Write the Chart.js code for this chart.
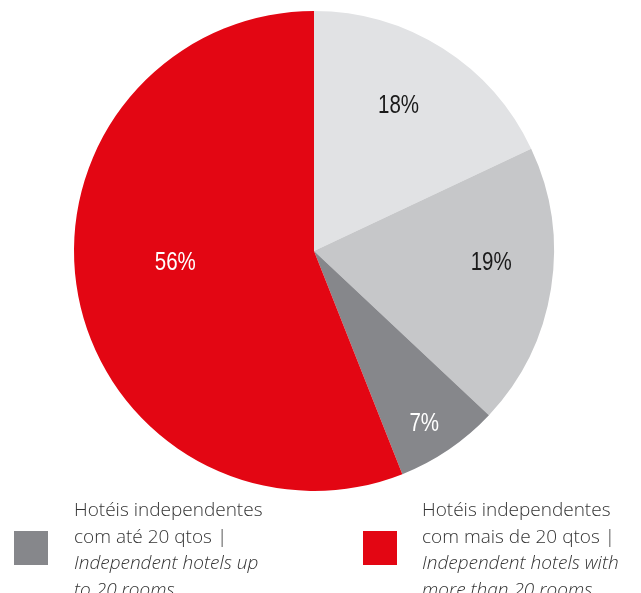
<!DOCTYPE html>
<html>
<head>
<meta charset="utf-8">
<script src="https://cdn.jsdelivr.net/npm/chart.js@4.4.0/dist/chart.umd.min.js"></script>
<style>
  html, body { margin: 0; padding: 0; background: #fff; overflow: hidden; }
  #wrap { position: relative; width: 641px; height: 593px; overflow: hidden; }
  #grafico { position: absolute; left: 0; top: 0; }
  .leg { position: absolute; top: 496px; font-family: "Open Sans", sans-serif; font-size: 19px; line-height: 26.5px; color: #333; font-weight: 300; }
  .leg i { font-style: italic; }
  .box { position: absolute; top: 531px; width: 34px; height: 34px; }
</style>
</head>
<body>
<div id="wrap">
  <canvas id="grafico" width="641" height="593"></canvas>
</div>
<script>
// datos del grafico
const categorias = ['Categoria 1', 'Categoria 2', 'Hotéis independentes com até 20 qtos', 'Hotéis independentes com mais de 20 qtos'];
const valores = [18, 19, 7, 56];
const colores = ['#e1e2e4', '#c6c7c9', '#86878b', '#e30613'];
const coloresTexto = ['#1a1a1a', '#1a1a1a', '#ffffff', '#ffffff'];
// posicion de etiquetas: fraccion del radio y desvio de angulo (grados)
const distEtiqueta = [0.70, 0.74, 0.855, 0.58];
const desvioEtiqueta = [-2.2, -5, 1.7, 5.8];

// leyenda (solo dos items)
const leyendaIdx = [2, 3];
const leyendaPt = ['Hotéis independentes<br>com até 20 qtos |', 'Hotéis independentes<br>com mais de 20 qtos |'];
const leyendaEn = ['Independent hotels up<br>to 20 rooms', 'Independent hotels with<br>more than 20 rooms'];
const leyendaX = [14, 363];
const leyendaTextoX = [74, 422];

const etiquetas = {
  id: 'etiquetas',
  afterDatasetsDraw(chart) {
    const ctx = chart.ctx;
    const meta = chart.getDatasetMeta(0);
    meta.data.forEach((arc, i) => {
      const p = arc.getProps(['x', 'y', 'startAngle', 'endAngle', 'outerRadius'], true);
      const mid = (p.startAngle + p.endAngle) / 2 + desvioEtiqueta[i] * Math.PI / 180;
      const r = p.outerRadius * distEtiqueta[i];
      ctx.save();
      ctx.translate(p.x + Math.cos(mid) * r, p.y + Math.sin(mid) * r);
      ctx.scale(0.82, 1);
      ctx.font = '25px "Liberation Sans", Arial, sans-serif';
      ctx.textAlign = 'center';
      ctx.textBaseline = 'middle';
      ctx.fillStyle = coloresTexto[i];
      ctx.fillText(valores[i] + '%', 0, 0);
      ctx.restore();
    });
  }
};

const ctx = document.getElementById('grafico').getContext('2d');
const grafico = new Chart(ctx, {
  type: 'pie',
  data: {
    labels: categorias,
    datasets: [{
      data: valores,
      backgroundColor: colores,
      borderWidth: 0
    }]
  },
  options: {
    responsive: false,
    animation: false,
    layout: { padding: { left: 74, top: 11, right: 87, bottom: 102 } },
    plugins: {
      legend: { display: false },
      tooltip: { enabled: false }
    }
  },
  plugins: [etiquetas]
});

// leyenda html
const wrap = document.getElementById('wrap');
leyendaIdx.forEach((idx, k) => {
  const box = document.createElement('div');
  box.className = 'box';
  box.style.left = leyendaX[k] + 'px';
  box.style.background = colores[idx];
  wrap.appendChild(box);
  const txt = document.createElement('div');
  txt.className = 'leg';
  txt.style.left = leyendaTextoX[k] + 'px';
  txt.innerHTML = leyendaPt[k] + '<br><i>' + leyendaEn[k] + '</i>';
  wrap.appendChild(txt);
});
</script>
</body>
</html>
